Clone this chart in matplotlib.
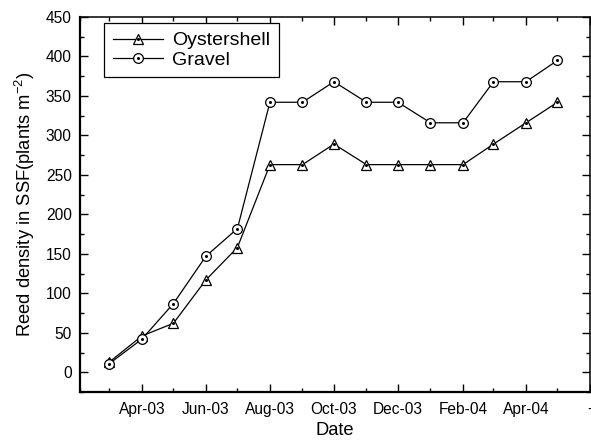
import datetime as dt
import matplotlib
matplotlib.use('Agg')
import matplotlib.pyplot as plt
import matplotlib.dates as mdates
from matplotlib.ticker import MultipleLocator

plt.rcParams['font.family'] = ['Liberation Sans', 'DejaVu Sans']
plt.rcParams['mathtext.fontset'] = 'custom'
plt.rcParams['mathtext.rm'] = 'Liberation Sans'

# monthly sampling dates, Mar-03 .. May-04
months = [(2003, m) for m in range(3, 13)] + [(2004, m) for m in range(1, 6)]
dates = [dt.date(y, m, 1) for y, m in months]

oystershell = [13, 46, 62, 117, 158, 263, 263, 289, 263, 263, 263, 263, 289, 316, 342]
gravel = [11, 42, 87, 147, 182, 342, 342, 368, 342, 342, 316, 316, 368, 368, 395]

tick_dates = [dt.date(2003, 4, 1), dt.date(2003, 6, 1), dt.date(2003, 8, 1),
              dt.date(2003, 10, 1), dt.date(2003, 12, 1), dt.date(2004, 2, 1),
              dt.date(2004, 4, 1), dt.date(2004, 6, 1)]
tick_labels = ['Apr-03', 'Jun-03', 'Aug-03', 'Oct-03', 'Dec-03', 'Feb-04', 'Apr-04', '-']

fig = plt.figure(figsize=(5.91, 4.42), dpi=100)
ax = fig.add_axes([80 / 591, 50 / 442, 510 / 591, 375 / 442])

# lines with open markers, plus the little centre dot
l1, = ax.plot(dates, oystershell, color='black', lw=0.9, marker='^', ms=7.5,
              mfc='white', mec='black', mew=0.9)
d1, = ax.plot(dates, oystershell, ls='none', marker='o', ms=1.2, color='black')
l2, = ax.plot(dates, gravel, color='black', lw=0.9, marker='o', ms=7,
              mfc='white', mec='black', mew=0.9)
d2, = ax.plot(dates, gravel, ls='none', marker='o', ms=1.2, color='black')

ax.set_xlim(dt.date(2003, 2, 1), dt.date(2004, 6, 1))
ax.set_ylim(-25, 450)

ax.set_xticks(tick_dates)
ax.set_xticklabels(tick_labels)
ax.xaxis.set_minor_locator(mdates.MonthLocator())
ax.yaxis.set_major_locator(MultipleLocator(50))
ax.yaxis.set_minor_locator(MultipleLocator(25))

ax.tick_params(which='both', direction='in', top=True, right=True, width=1)
ax.tick_params(which='major', length=6, labelsize=11.2)
ax.tick_params(axis='x', which='major', pad=7)
ax.tick_params(axis='y', which='major', pad=6)
ax.tick_params(which='minor', length=3)
for side in ['left', 'bottom']:
    ax.spines[side].set_linewidth(1.6)
for side in ['top', 'right']:
    ax.spines[side].set_linewidth(1.1)

ax.set_xlabel('Date', fontsize=13.2, labelpad=4)
ax.set_ylabel('Reed density in SSF(plants m$^{-2}$)', fontsize=13.2, labelpad=6)

leg = ax.legend([(l1, d1), (l2, d2)], ['Oystershell', 'Gravel'],
                loc='upper left', bbox_to_anchor=(0.047, 0.984), borderaxespad=0,
                fontsize=14, handlelength=2.6, handletextpad=0.45,
                labelspacing=0.08, borderpad=0.45, fancybox=False,
                edgecolor='black', framealpha=1)
leg.get_frame().set_linewidth(0.9)

fig.savefig('out.png', dpi=100)
